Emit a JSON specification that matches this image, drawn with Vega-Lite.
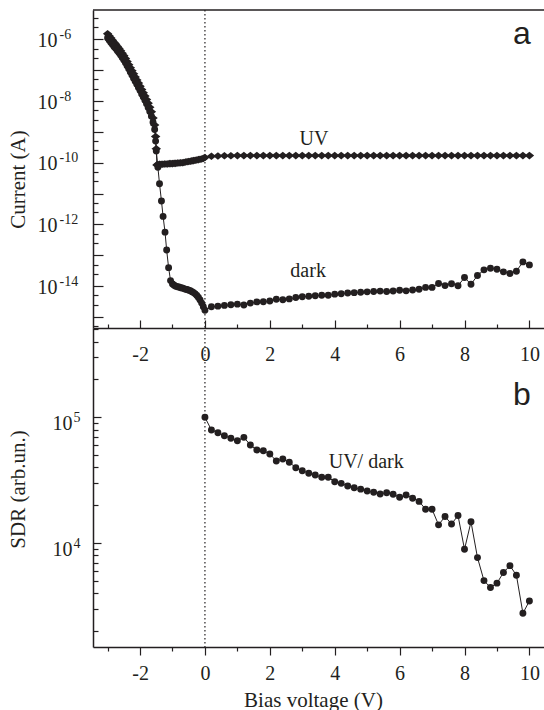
{
  "$schema": "https://vega.github.io/schema/vega-lite/v6.json",
  "width": 451,
  "height": 637,
  "autosize": "none",
  "padding": {"left": 93, "top": 10, "right": 0, "bottom": 63},
  "background": "white",
  "config": {
    "view": {"stroke": null},
    "axis": {
      "domainColor": "#231f20", "domainWidth": 1.5,
      "tickColor": "#231f20", "tickWidth": 1.2,
      "labelColor": "#231f20", "titleColor": "#231f20",
      "labelFont": "Liberation Serif", "labelFontSize": 20,
      "titleFont": "Liberation Serif", "titleFontSize": 21, "titleFontWeight": "normal",
      "grid": false, "labelFlush": false, "labelOverlap": false, "labelBound": false
    }
  },
  "datasets": {
    "iv": [
      {"v":-3.00,"I":1.51e-6,"s":"UV"},{"v":-2.95,"I":1.29e-6,"s":"UV"},{"v":-2.90,"I":1.10e-6,"s":"UV"},{"v":-2.85,"I":9.33e-7,"s":"UV"},{"v":-2.80,"I":7.94e-7,"s":"UV"},{"v":-2.75,"I":6.92e-7,"s":"UV"},{"v":-2.70,"I":5.89e-7,"s":"UV"},{"v":-2.65,"I":5.01e-7,"s":"UV"},{"v":-2.60,"I":4.27e-7,"s":"UV"},{"v":-2.55,"I":3.55e-7,"s":"UV"},{"v":-2.50,"I":2.95e-7,"s":"UV"},{"v":-2.45,"I":2.40e-7,"s":"UV"},{"v":-2.40,"I":1.91e-7,"s":"UV"},{"v":-2.35,"I":1.51e-7,"s":"UV"},{"v":-2.30,"I":1.20e-7,"s":"UV"},{"v":-2.25,"I":9.55e-8,"s":"UV"},{"v":-2.20,"I":7.59e-8,"s":"UV"},{"v":-2.15,"I":6.03e-8,"s":"UV"},{"v":-2.10,"I":4.79e-8,"s":"UV"},{"v":-2.05,"I":3.80e-8,"s":"UV"},{"v":-2.00,"I":3.02e-8,"s":"UV"},{"v":-1.95,"I":2.34e-8,"s":"UV"},{"v":-1.90,"I":1.86e-8,"s":"UV"},{"v":-1.85,"I":1.45e-8,"s":"UV"},{"v":-1.80,"I":1.12e-8,"s":"UV"},{"v":-1.75,"I":8.51e-9,"s":"UV"},{"v":-1.70,"I":6.31e-9,"s":"UV"},{"v":-1.65,"I":4.47e-9,"s":"UV"},{"v":-1.60,"I":2.82e-9,"s":"UV"},{"v":-1.55,"I":1.66e-9,"s":"UV"},{"v":-1.52,"I":7.08e-10,"s":"UV"},{"v":-1.50,"I":2.82e-10,"s":"UV"},{"v":-1.48,"I":8.51e-11,"s":"UV"},{"v":-1.45,"I":8.71e-11,"s":"UV"},{"v":-1.40,"I":8.91e-11,"s":"UV"},{"v":-1.35,"I":8.91e-11,"s":"UV"},{"v":-1.30,"I":8.91e-11,"s":"UV"},{"v":-1.25,"I":9.12e-11,"s":"UV"},{"v":-1.20,"I":9.12e-11,"s":"UV"},{"v":-1.15,"I":9.12e-11,"s":"UV"},{"v":-1.10,"I":9.33e-11,"s":"UV"},{"v":-1.05,"I":9.33e-11,"s":"UV"},{"v":-1.00,"I":9.33e-11,"s":"UV"},{"v":-0.95,"I":9.55e-11,"s":"UV"},{"v":-0.90,"I":9.55e-11,"s":"UV"},{"v":-0.85,"I":9.77e-11,"s":"UV"},{"v":-0.80,"I":9.77e-11,"s":"UV"},{"v":-0.75,"I":1.00e-10,"s":"UV"},{"v":-0.70,"I":1.00e-10,"s":"UV"},{"v":-0.65,"I":1.02e-10,"s":"UV"},{"v":-0.60,"I":1.05e-10,"s":"UV"},{"v":-0.55,"I":1.07e-10,"s":"UV"},{"v":-0.50,"I":1.10e-10,"s":"UV"},{"v":-0.45,"I":1.12e-10,"s":"UV"},{"v":-0.40,"I":1.15e-10,"s":"UV"},{"v":-0.35,"I":1.17e-10,"s":"UV"},{"v":-0.30,"I":1.20e-10,"s":"UV"},{"v":-0.25,"I":1.23e-10,"s":"UV"},{"v":-0.20,"I":1.26e-10,"s":"UV"},{"v":-0.15,"I":1.29e-10,"s":"UV"},{"v":-0.10,"I":1.32e-10,"s":"UV"},{"v":-0.05,"I":1.38e-10,"s":"UV"},{"v":0.00,"I":1.48e-10,"s":"UV"},
      {"v":0.2,"I":1.62e-10,"s":"UV"},{"v":0.4,"I":1.66e-10,"s":"UV"},{"v":0.6,"I":1.68e-10,"s":"UV"},{"v":0.8,"I":1.69e-10,"s":"UV"},{"v":1.0,"I":1.70e-10,"s":"UV"},{"v":1.2,"I":1.70e-10,"s":"UV"},{"v":1.4,"I":1.70e-10,"s":"UV"},{"v":1.6,"I":1.70e-10,"s":"UV"},{"v":1.8,"I":1.70e-10,"s":"UV"},{"v":2.0,"I":1.70e-10,"s":"UV"},{"v":2.2,"I":1.70e-10,"s":"UV"},{"v":2.4,"I":1.70e-10,"s":"UV"},{"v":2.6,"I":1.70e-10,"s":"UV"},{"v":2.8,"I":1.70e-10,"s":"UV"},{"v":3.0,"I":1.70e-10,"s":"UV"},{"v":3.2,"I":1.70e-10,"s":"UV"},{"v":3.4,"I":1.70e-10,"s":"UV"},{"v":3.6,"I":1.70e-10,"s":"UV"},{"v":3.8,"I":1.70e-10,"s":"UV"},{"v":4.0,"I":1.70e-10,"s":"UV"},{"v":4.2,"I":1.70e-10,"s":"UV"},{"v":4.4,"I":1.70e-10,"s":"UV"},{"v":4.6,"I":1.70e-10,"s":"UV"},{"v":4.8,"I":1.70e-10,"s":"UV"},{"v":5.0,"I":1.70e-10,"s":"UV"},{"v":5.2,"I":1.70e-10,"s":"UV"},{"v":5.4,"I":1.70e-10,"s":"UV"},{"v":5.6,"I":1.70e-10,"s":"UV"},{"v":5.8,"I":1.70e-10,"s":"UV"},{"v":6.0,"I":1.70e-10,"s":"UV"},{"v":6.2,"I":1.70e-10,"s":"UV"},{"v":6.4,"I":1.70e-10,"s":"UV"},{"v":6.6,"I":1.70e-10,"s":"UV"},{"v":6.8,"I":1.70e-10,"s":"UV"},{"v":7.0,"I":1.70e-10,"s":"UV"},{"v":7.2,"I":1.70e-10,"s":"UV"},{"v":7.4,"I":1.70e-10,"s":"UV"},{"v":7.6,"I":1.70e-10,"s":"UV"},{"v":7.8,"I":1.70e-10,"s":"UV"},{"v":8.0,"I":1.70e-10,"s":"UV"},{"v":8.2,"I":1.70e-10,"s":"UV"},{"v":8.4,"I":1.70e-10,"s":"UV"},{"v":8.6,"I":1.70e-10,"s":"UV"},{"v":8.8,"I":1.70e-10,"s":"UV"},{"v":9.0,"I":1.70e-10,"s":"UV"},{"v":9.2,"I":1.70e-10,"s":"UV"},{"v":9.4,"I":1.70e-10,"s":"UV"},{"v":9.6,"I":1.70e-10,"s":"UV"},{"v":9.8,"I":1.70e-10,"s":"UV"},{"v":10.0,"I":1.70e-10,"s":"UV"},
      {"v":-3.00,"I":1.10e-6,"s":"dark"},{"v":-2.95,"I":9.33e-7,"s":"dark"},{"v":-2.90,"I":7.94e-7,"s":"dark"},{"v":-2.85,"I":6.76e-7,"s":"dark"},{"v":-2.80,"I":5.75e-7,"s":"dark"},{"v":-2.75,"I":5.01e-7,"s":"dark"},{"v":-2.70,"I":4.27e-7,"s":"dark"},{"v":-2.65,"I":3.63e-7,"s":"dark"},{"v":-2.60,"I":3.09e-7,"s":"dark"},{"v":-2.55,"I":2.57e-7,"s":"dark"},{"v":-2.50,"I":2.14e-7,"s":"dark"},{"v":-2.45,"I":1.74e-7,"s":"dark"},{"v":-2.40,"I":1.38e-7,"s":"dark"},{"v":-2.35,"I":1.10e-7,"s":"dark"},{"v":-2.30,"I":8.71e-8,"s":"dark"},{"v":-2.25,"I":6.92e-8,"s":"dark"},{"v":-2.20,"I":5.50e-8,"s":"dark"},{"v":-2.15,"I":4.37e-8,"s":"dark"},{"v":-2.10,"I":3.47e-8,"s":"dark"},{"v":-2.05,"I":2.75e-8,"s":"dark"},{"v":-2.00,"I":2.19e-8,"s":"dark"},{"v":-1.95,"I":1.70e-8,"s":"dark"},{"v":-1.90,"I":1.35e-8,"s":"dark"},{"v":-1.85,"I":1.05e-8,"s":"dark"},{"v":-1.80,"I":8.13e-9,"s":"dark"},{"v":-1.75,"I":6.17e-9,"s":"dark"},{"v":-1.70,"I":4.57e-9,"s":"dark"},{"v":-1.65,"I":3.24e-9,"s":"dark"},{"v":-1.60,"I":2.04e-9,"s":"dark"},{"v":-1.55,"I":1.20e-9,"s":"dark"},{"v":-1.52,"I":5.01e-10,"s":"dark"},{"v":-1.50,"I":2.40e-10,"s":"dark"},{"v":-1.45,"I":7.08e-11,"s":"dark"},{"v":-1.40,"I":2.09e-11,"s":"dark"},{"v":-1.34,"I":5.75e-12,"s":"dark"},{"v":-1.29,"I":1.82e-12,"s":"dark"},{"v":-1.23,"I":5.62e-13,"s":"dark"},{"v":-1.18,"I":1.48e-13,"s":"dark"},{"v":-1.12,"I":3.98e-14,"s":"dark"},{"v":-1.06,"I":1.51e-14,"s":"dark"},{"v":-1.00,"I":1.17e-14,"s":"dark"},{"v":-0.95,"I":1.07e-14,"s":"dark"},{"v":-0.90,"I":1.00e-14,"s":"dark"},{"v":-0.85,"I":9.55e-15,"s":"dark"},{"v":-0.80,"I":9.33e-15,"s":"dark"},{"v":-0.75,"I":8.91e-15,"s":"dark"},{"v":-0.70,"I":8.71e-15,"s":"dark"},{"v":-0.65,"I":8.32e-15,"s":"dark"},{"v":-0.60,"I":7.94e-15,"s":"dark"},{"v":-0.55,"I":7.76e-15,"s":"dark"},{"v":-0.50,"I":7.41e-15,"s":"dark"},{"v":-0.45,"I":7.08e-15,"s":"dark"},{"v":-0.40,"I":6.61e-15,"s":"dark"},{"v":-0.35,"I":6.17e-15,"s":"dark"},{"v":-0.30,"I":5.62e-15,"s":"dark"},{"v":-0.25,"I":5.01e-15,"s":"dark"},{"v":-0.20,"I":4.27e-15,"s":"dark"},{"v":-0.15,"I":3.55e-15,"s":"dark"},{"v":-0.10,"I":2.82e-15,"s":"dark"},{"v":-0.05,"I":2.14e-15,"s":"dark"},{"v":0.00,"I":1.66e-15,"s":"dark"},
      {"v":0.2,"I":2.14e-15,"s":"dark"},{"v":0.4,"I":2.25e-15,"s":"dark"},{"v":0.6,"I":2.38e-15,"s":"dark"},{"v":0.8,"I":2.49e-15,"s":"dark"},{"v":1.0,"I":2.61e-15,"s":"dark"},{"v":1.2,"I":2.45e-15,"s":"dark"},{"v":1.4,"I":2.82e-15,"s":"dark"},{"v":1.6,"I":3.09e-15,"s":"dark"},{"v":1.8,"I":3.13e-15,"s":"dark"},{"v":2.0,"I":3.32e-15,"s":"dark"},{"v":2.2,"I":3.78e-15,"s":"dark"},{"v":2.4,"I":3.64e-15,"s":"dark"},{"v":2.6,"I":3.86e-15,"s":"dark"},{"v":2.8,"I":4.27e-15,"s":"dark"},{"v":3.0,"I":4.51e-15,"s":"dark"},{"v":3.2,"I":4.72e-15,"s":"dark"},{"v":3.4,"I":4.88e-15,"s":"dark"},{"v":3.6,"I":5.08e-15,"s":"dark"},{"v":3.8,"I":5.08e-15,"s":"dark"},{"v":4.0,"I":5.51e-15,"s":"dark"},{"v":4.2,"I":5.68e-15,"s":"dark"},{"v":4.4,"I":5.96e-15,"s":"dark"},{"v":4.6,"I":6.15e-15,"s":"dark"},{"v":4.8,"I":6.32e-15,"s":"dark"},{"v":5.0,"I":6.53e-15,"s":"dark"},{"v":5.2,"I":6.68e-15,"s":"dark"},{"v":5.4,"I":6.90e-15,"s":"dark"},{"v":5.6,"I":6.73e-15,"s":"dark"},{"v":5.8,"I":6.93e-15,"s":"dark"},{"v":6.0,"I":7.33e-15,"s":"dark"},{"v":6.2,"I":7.03e-15,"s":"dark"},{"v":6.4,"I":7.46e-15,"s":"dark"},{"v":6.6,"I":7.89e-15,"s":"dark"},{"v":6.8,"I":9.12e-15,"s":"dark"},{"v":7.0,"I":9.12e-15,"s":"dark"},{"v":7.2,"I":1.22e-14,"s":"dark"},{"v":7.4,"I":1.04e-14,"s":"dark"},{"v":7.6,"I":1.19e-14,"s":"dark"},{"v":7.8,"I":1.03e-14,"s":"dark"},{"v":8.0,"I":1.90e-14,"s":"dark"},{"v":8.2,"I":1.15e-14,"s":"dark"},{"v":8.4,"I":2.21e-14,"s":"dark"},{"v":8.6,"I":3.37e-14,"s":"dark"},{"v":8.8,"I":3.82e-14,"s":"dark"},{"v":9.0,"I":3.52e-14,"s":"dark"},{"v":9.2,"I":2.90e-14,"s":"dark"},{"v":9.4,"I":2.56e-14,"s":"dark"},{"v":9.6,"I":3.05e-14,"s":"dark"},{"v":9.8,"I":6.11e-14,"s":"dark"},{"v":10.0,"I":4.88e-14,"s":"dark"}
    ],
    "sdr": [
      {"v":0.0,"r":100000},{"v":0.2,"r":79300},{"v":0.4,"r":75500},{"v":0.6,"r":71400},{"v":0.8,"r":68100},{"v":1.0,"r":65200},{"v":1.2,"r":69300},{"v":1.4,"r":60300},{"v":1.6,"r":55000},{"v":1.8,"r":54300},{"v":2.0,"r":51200},{"v":2.2,"r":45000},{"v":2.4,"r":46700},{"v":2.6,"r":44000},{"v":2.8,"r":39800},{"v":3.0,"r":37700},{"v":3.2,"r":36000},{"v":3.4,"r":34800},{"v":3.6,"r":33400},{"v":3.8,"r":33400},{"v":4.0,"r":30800},{"v":4.2,"r":29900},{"v":4.4,"r":28500},{"v":4.6,"r":27600},{"v":4.8,"r":26900},{"v":5.0,"r":26000},{"v":5.2,"r":25400},{"v":5.4,"r":24600},{"v":5.6,"r":25200},{"v":5.8,"r":24500},{"v":6.0,"r":23200},{"v":6.2,"r":24200},{"v":6.4,"r":22800},{"v":6.6,"r":21500},{"v":6.8,"r":18600},{"v":7.0,"r":18600},{"v":7.2,"r":14000},{"v":7.4,"r":16300},{"v":7.6,"r":14200},{"v":7.8,"r":16600},{"v":8.0,"r":8950},{"v":8.2,"r":14800},{"v":8.4,"r":7690},{"v":8.6,"r":5050},{"v":8.8,"r":4450},{"v":9.0,"r":4820},{"v":9.2,"r":5850},{"v":9.4,"r":6640},{"v":9.6,"r":5570},{"v":9.8,"r":2780},{"v":10.0,"r":3480}
    ]
  },
  "layer": [
    {
      "data": {"name": "iv"},
      "layer": [
        {
          "mark": {"type": "line", "color": "#231f20", "strokeWidth": 1},
          "encoding": {
            "x": {"field": "v", "type": "quantitative", "scale": {"domain": [-3.45, 10.45], "nice": false, "zero": false},
              "axis": {"orient": "bottom", "offset": -319, "values": [-2,0,2,4,6,8,10],
                "labelExpr": "'' + datum.value",
                "tickSize": -8, "labelPadding": 24, "title": null}},
            "y": {"field": "I", "type": "quantitative", "scale": {"type": "log", "domain": [4.4e-16, 8.9e-6], "range": [318, 0], "nice": false},
              "axis": {"orient": "left",
                "values": [5e-16,1e-15,2.5e-15,5e-15,1e-14,2.5e-14,5e-14,1e-13,2.5e-13,5e-13,1e-12,2.5e-12,5e-12,1e-11,2.5e-11,5e-11,1e-10,2.5e-10,5e-10,1e-9,2.5e-9,5e-9,1e-8,2.5e-8,5e-8,1e-7,2.5e-7,5e-7,1e-6,2.5e-6,5e-6],
                "labelExpr": "datum.value == 1e-6 || datum.value == 1e-8 || datum.value == 1e-10 || datum.value == 1e-12 || datum.value == 1e-14 ? '10' : ''",
                "tickSize": {"condition": {"test": "abs(log(datum.value)/LN10 - round(log(datum.value)/LN10)) < 0.01", "value": -10}, "value": -5},
                "labelAlign": "left", "labelPadding": 66, "labelBaseline": "alphabetic", "labelOffset": 7,
                "title": "Current (A)", "titleX": -69, "titleY": 169, "titleAngle": -90, "titleBaseline": "alphabetic", "titleAlign": "center"}},
            "detail": {"field": "s"}
          }
        },
        {
          "transform": [{"filter": "datum.s == 'UV'"}],
          "mark": {"type": "point", "filled": true, "opacity": 1, "color": "#231f20", "size": 90, "shape": "M -1 0 L 0 -0.8 L 1 0 L 0 0.8 Z"},
          "encoding": {
            "x": {"field": "v", "type": "quantitative", "scale": {"domain": [-3.45, 10.45], "nice": false, "zero": false}},
            "y": {"field": "I", "type": "quantitative", "scale": {"type": "log", "domain": [4.4e-16, 8.9e-6], "range": [318, 0], "nice": false}}
          }
        },
        {
          "transform": [{"filter": "datum.s == 'dark'"}],
          "mark": {"type": "point", "filled": true, "opacity": 1, "color": "#231f20", "size": 48, "shape": "circle"},
          "encoding": {
            "x": {"field": "v", "type": "quantitative", "scale": {"domain": [-3.45, 10.45], "nice": false, "zero": false}},
            "y": {"field": "I", "type": "quantitative", "scale": {"type": "log", "domain": [4.4e-16, 8.9e-6], "range": [318, 0], "nice": false}}
          }
        },
        {
          "data": {"values": [{}]},
          "mark": {"type": "rule", "color": "#231f20", "strokeWidth": 1.2, "strokeDash": [1.5, 2.5]},
          "encoding": {"x": {"datum": 0, "type": "quantitative", "scale": {"domain": [-3.45, 10.45], "nice": false, "zero": false}}}
        },
        {
          "data": {"values": [{}]},
          "mark": {"type": "text", "text": "UV", "font": "Liberation Serif", "fontSize": 20, "color": "#231f20", "align": "center", "baseline": "alphabetic"},
          "encoding": {
            "x": {"datum": 3.36, "type": "quantitative", "scale": {"domain": [-3.45, 10.45], "nice": false, "zero": false}},
            "y": {"datum": 3.7e-10, "type": "quantitative", "scale": {"type": "log", "domain": [4.4e-16, 8.9e-6], "range": [318, 0], "nice": false}}
          }
        },
        {
          "data": {"values": [{}]},
          "mark": {"type": "text", "text": "dark", "font": "Liberation Serif", "fontSize": 20, "color": "#231f20", "align": "center", "baseline": "alphabetic"},
          "encoding": {
            "x": {"datum": 3.18, "type": "quantitative", "scale": {"domain": [-3.45, 10.45], "nice": false, "zero": false}},
            "y": {"datum": 2.0e-14, "type": "quantitative", "scale": {"type": "log", "domain": [4.4e-16, 8.9e-6], "range": [318, 0], "nice": false}}
          }
        },
        {
          "data": {"values": [{}]},
          "mark": {"type": "text", "text": "a", "font": "Liberation Sans", "fontSize": 32, "color": "#231f20", "align": "center", "baseline": "alphabetic"},
          "encoding": {
            "x": {"datum": 9.77, "type": "quantitative", "scale": {"domain": [-3.45, 10.45], "nice": false, "zero": false}},
            "y": {"datum": 7.0e-7, "type": "quantitative", "scale": {"type": "log", "domain": [4.4e-16, 8.9e-6], "range": [318, 0], "nice": false}}
          }
        }
      ]
    },
    {
      "data": {"name": "sdr"},
      "layer": [
        {
          "mark": {"type": "line", "color": "#231f20", "strokeWidth": 1},
          "encoding": {
            "x": {"field": "v", "type": "quantitative", "scale": {"domain": [-3.45, 10.45], "nice": false, "zero": false},
              "axis": {"orient": "bottom", "values": [-2,0,2,4,6,8,10],
                "labelExpr": "'' + datum.value",
                "tickSize": 8, "labelPadding": 8,
                "title": "Bias voltage (V)", "titleX": 220, "titleY": 59, "titleBaseline": "alphabetic", "titleAlign": "center", "titleAngle": 0}},
            "y": {"field": "r", "type": "quantitative", "scale": {"type": "log", "domain": [1500, 512000], "range": [637, 318], "nice": false},
              "axis": {"orient": "left",
                "values": [2000,3000,4000,5000,6000,7000,8000,9000,10000,20000,30000,40000,50000,60000,70000,80000,90000,100000,200000,300000,400000,500000],
                "labelExpr": "datum.value == 10000 || datum.value == 100000 ? '10' : ''",
                "tickSize": {"condition": {"test": "datum.value == 10000 || datum.value == 100000", "value": -8}, "value": -5},
                "labelAlign": "left", "labelPadding": 49, "labelBaseline": "alphabetic", "labelOffset": 12.5,
                "title": "SDR (arb.un.)", "titleX": -69, "titleY": 479, "titleAngle": -90, "titleBaseline": "alphabetic", "titleAlign": "center"}}
          }
        },
        {
          "mark": {"type": "point", "filled": true, "opacity": 1, "color": "#231f20", "size": 48, "shape": "circle"},
          "encoding": {
            "x": {"field": "v", "type": "quantitative", "scale": {"domain": [-3.45, 10.45], "nice": false, "zero": false}},
            "y": {"field": "r", "type": "quantitative", "scale": {"type": "log", "domain": [1500, 512000], "range": [637, 318], "nice": false}}
          }
        },
        {
          "data": {"values": [{}]},
          "mark": {"type": "text", "text": "UV/ dark", "font": "Liberation Serif", "fontSize": 20, "color": "#231f20", "align": "center", "baseline": "alphabetic"},
          "encoding": {
            "x": {"datum": 4.97, "type": "quantitative", "scale": {"domain": [-3.45, 10.45], "nice": false, "zero": false}},
            "y": {"datum": 39800, "type": "quantitative", "scale": {"type": "log", "domain": [1500, 512000], "range": [637, 318], "nice": false}}
          }
        }
      ]
    },
    {
      "data": {"values": [{}]},
      "mark": {"type": "rule", "color": "#231f20", "strokeWidth": 1.5},
      "encoding": {
        "x": {"datum": -3.45, "type": "quantitative", "scale": {"domain": [-3.45, 10.45], "nice": false, "zero": false},
          "axis": {"orient": "bottom", "offset": -319, "values": [-3,-1,1,3,5,7,9], "domain": false, "labels": false, "tickSize": -4, "title": null}},
        "x2": {"datum": 10.45},
        "y": {"datum": 8.9e-6, "type": "quantitative", "scale": {"type": "log", "domain": [4.4e-16, 8.9e-6], "range": [318, 0], "nice": false},
          "axis": {"orient": "left", "values": [1e-14,1e-12,1e-10,1e-8,1e-6],
            "labelExpr": "datum.value == 1e-6 ? '-6' : datum.value == 1e-8 ? '-8' : datum.value == 1e-10 ? '-10' : datum.value == 1e-12 ? '-12' : '-14'",
            "domain": false, "ticks": false, "labelFontSize": 14, "labelAlign": "left", "labelPadding": 34, "labelBaseline": "alphabetic", "labelOffset": -1, "title": null}}
      }
    },
    {
      "data": {"values": [{}]},
      "mark": {"type": "text", "text": "b", "font": "Liberation Sans", "fontSize": 32, "color": "#231f20", "align": "center", "baseline": "alphabetic"},
      "encoding": {
        "x": {"datum": 9.77, "type": "quantitative", "scale": {"domain": [-3.45, 10.45], "nice": false, "zero": false},
          "axis": {"orient": "bottom", "values": [-3,-1,1,3,5,7,9], "domain": false, "labels": false, "tickSize": 4, "title": null}},
        "y": {"datum": 125000, "type": "quantitative", "scale": {"type": "log", "domain": [1500, 512000], "range": [637, 318], "nice": false},
          "axis": {"orient": "left", "values": [10000, 100000],
            "labelExpr": "datum.value == 10000 ? '4' : '5'",
            "domain": false, "ticks": false, "labelFontSize": 14, "labelAlign": "left", "labelPadding": 20, "labelBaseline": "alphabetic", "labelOffset": 4.5, "title": null}}
      }
    }
  ],
  "resolve": {"scale": {"x": "independent", "y": "independent"}, "axis": {"x": "independent", "y": "independent"}}
}
